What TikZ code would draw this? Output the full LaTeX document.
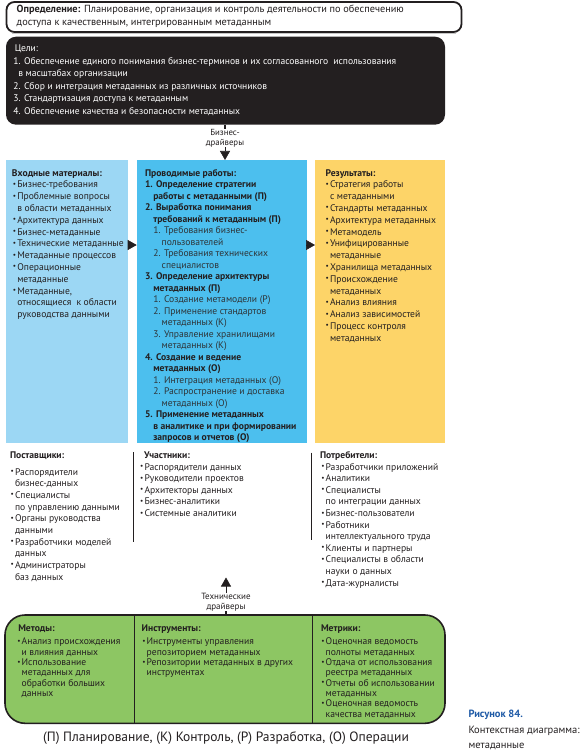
\documentclass[tikz,border=0pt]{standalone}
\usepackage{fontspec}
\usepackage{graphicx}
\setmainfont{PT Sans}
\usetikzlibrary{arrows.meta}
\definecolor{txt}{HTML}{231F20}
\definecolor{subc}{HTML}{2E3438}
\definecolor{lblue}{HTML}{9CD7F4}
\definecolor{mblue}{HTML}{4CBFEE}
\definecolor{yel}{HTML}{FDD468}
\definecolor{grn}{HTML}{8DC663}
\definecolor{capblue}{HTML}{1F5AA6}
\newcommand\bodyf{\fontsize{9.6pt}{11.8pt}\selectfont}
\newcommand\bul{\makebox[4.4pt][l]{\raisebox{0.3ex}{\scalebox{0.75}{•}}}}
\newcommand\blk[1]{\vtop{\hsize=450pt\parindent=0pt\parskip=0pt\rightskip=0pt plus 1fil\relax #1}}
\newcommand\bi[1]{\par\hangindent=4.4pt\hangafter=1\noindent\bul #1}
\newcommand\ttl[2]{\noindent\hspace*{#1}\textbf{#2}}
\newcommand\mi[3]{\par{\leftskip=#1\hangindent=#2\hangafter=1\noindent #3\par}}
\newcommand\ctr[1]{\vtop{\halign{\hfil##\hfil\cr #1\crcr}}}
\begin{document}
\begin{tikzpicture}[x=1pt,y=-1pt,
  tnode/.style={inner sep=0pt,outer sep=0pt,anchor=base west,text=txt},
  panel/.style={inner sep=0pt,outer sep=0pt,anchor=north west},
  tip/.style={-{Triangle[length=9pt,width=10pt]},line width=0.6pt,draw=txt},
  stem/.style={line width=1.2pt,draw=txt},
  sep/.style={line width=1.1pt,draw=txt}]
\useasboundingbox (0,0) rectangle (584,754);

% definition
\draw[black!22, line width=1.2pt] (12,33.4) -- (456,33.4);
\node[panel, draw=txt, fill=white, line width=1.8pt, rounded corners=8pt,
      minimum width=455pt, minimum height=30pt] (def) at (6.5,2) {};
\node[tnode, font=\fontsize{10.3}{12.4}\selectfont] (deft) at (16.7,13)
  {\blk{\noindent\textbf{Определение:} Планирование, организация и контроль деятельности по обеспечению\newline доступа к качественным, интегрированным метаданным}};

% goals
\node[panel, fill=txt, rounded corners=10pt, minimum width=439pt, minimum height=88pt] (goals) at (6,36.7) {};
\node[tnode, text=white, font=\fontsize{9.6}{12.6}\selectfont] (goalst) at (13.3,51.5)
  {\blk{\noindent\hspace*{1.5pt}Цели:
   \mi{0pt}{5pt}{1. Обеспечение единого понимания бизнес-терминов и их согласованного\ \ использования\newline в масштабах организации}
   \mi{0pt}{5pt}{2. Сбор и интеграция метаданных из различных источников}
   \mi{0pt}{5pt}{3. Стандартизация доступа к метаданным}
   \mi{0pt}{5pt}{4. Обеспечение качества и безопасности метаданных}}};

% columns
\node[panel, fill=lblue, minimum width=122.3pt, minimum height=283pt] (inp) at (6,160) {};
\node[panel, fill=mblue, minimum width=170pt, minimum height=283pt] (act) at (136.7,160) {};
\node[panel, fill=yel, minimum width=130pt, minimum height=283pt] (res) at (315,160) {};

\node[tnode, font=\bodyf] (inpt) at (12.9,176)
  {\blk{\ttl{-0.9pt}{Входные материалы:}
   \bi{Бизнес-требования}
   \bi{Проблемные вопросы\newline в области метаданных}
   \bi{Архитектура данных}
   \bi{Бизнес-метаданные}
   \bi{Технические метаданные}
   \bi{Метаданные процессов}
   \bi{Операционные\newline метаданные}
   \bi{Метаданные,\newline относящиеся\ \ к области\newline руководства данными}}};

\node[tnode, font=\fontsize{9.6pt}{11.5pt}\selectfont] (actt) at (145,176)
  {\blk{\ttl{0pt}{Проводимые работы:}
   \mi{0pt}{8.3pt}{\textbf{1. Определение стратегии\newline работы с метаданными (П)}}
   \mi{0pt}{8.3pt}{\textbf{2. Выработка понимания\newline требований к метаданным (П)}}
   \mi{8.3pt}{8.4pt}{\color{subc}1. Требования бизнес-\newline пользователей}
   \mi{8.3pt}{8.4pt}{\color{subc}2. Требования технических\newline специалистов}
   \mi{0pt}{8.3pt}{\textbf{3. Определение архитектуры\newline метаданных (П)}}
   \mi{8.3pt}{8.4pt}{\color{subc}1. Создание метамодели (Р)}
   \mi{8.3pt}{8.4pt}{\color{subc}2. Применение стандартов\newline метаданных (К)}
   \mi{8.3pt}{8.4pt}{\color{subc}3. Управление хранилищами\newline метаданных (К)}
   \mi{0pt}{8.3pt}{\textbf{4. Создание и ведение\newline метаданных (О)}}
   \mi{8.3pt}{8.4pt}{\color{subc}1. Интеграция метаданных (О)}
   \mi{8.3pt}{8.4pt}{\color{subc}2. Распространение и доставка\newline метаданных (О)}
   \mi{0pt}{8.3pt}{\textbf{5. Применение метаданных\newline в аналитике и при формировании\newline запросов и отчетов (О)}}}};

\node[tnode, font=\bodyf] (rest) at (325.6,176)
  {\blk{\ttl{0pt}{Результаты:}
   \bi{Стратегия работы\newline с метаданными}
   \bi{Стандарты метаданных}
   \bi{Архитектура метаданных}
   \bi{Метамодель}
   \bi{Унифицированные\newline метаданные}
   \bi{Хранилища метаданных}
   \bi{Происхождение\newline метаданных}
   \bi{Анализ влияния}
   \bi{Анализ зависимостей}
   \bi{Процесс контроля\newline метаданных}}};

\coordinate (arow) at (0,245);
\draw[tip] (inp.east |- arow) -- (act.west |- arow);
\draw[tip] (act.east |- arow) -- (res.west |- arow);

% business drivers
\node[inner sep=0pt, outer sep=0pt, anchor=base, text=txt, font=\fontsize{8.8}{10}\selectfont] (bd) at (225,135.5)
  {\ctr{Бизнес-\cr драйверы}};
\draw[stem] (goals.south -| bd) -- (bd.north);
\draw[tip] (bd.south) -- (bd.south |- act.north);

% lower lists
\node[tnode, font=\fontsize{9.6pt}{11.67pt}\selectfont] (supt) at (10.6,458.5)
  {\blk{\ttl{-0.6pt}{Поставщики:}\par\vspace{4.9pt}
   \bi{Распорядители\newline бизнес-данных}
   \bi{Специалисты\newline по управлению данными}
   \bi{Органы руководства\newline данными}
   \bi{Разработчики моделей\newline данных}
   \bi{Администраторы\newline баз данных}}};
\node[tnode, font=\fontsize{9.6pt}{11.6pt}\selectfont] (part) at (140.1,458.5)
  {\blk{\ttl{3.9pt}{Участники:}
   \bi{Распорядители данных}
   \bi{Руководители проектов}
   \bi{Архитекторы данных}
   \bi{Бизнес-аналитики}
   \bi{Системные аналитики}}};
\node[tnode, font=\fontsize{9.6pt}{11.6pt}\selectfont] (cont) at (321.3,458.5)
  {\blk{\ttl{-1.3pt}{Потребители:}
   \bi{Разработчики приложений}
   \bi{Аналитики}
   \bi{Специалисты\newline по интеграции данных}
   \bi{Бизнес-пользователи}
   \bi{Работники\newline интеллектуального труда}
   \bi{Клиенты и партнеры}
   \bi{Специалисты в области\newline науки о данных}
   \bi{Дата-журналисты}}};
\draw[sep] (133.3,452) -- (133.3,541.7);
\draw[sep] (311.7,452.7) -- (311.7,540);

% green box
\node[panel, fill=grn, draw=txt, line width=1.6pt, rounded corners=20pt,
      minimum width=440pt, minimum height=108.3pt] (grn) at (5,615) {};
\draw[line width=1pt, draw=txt] ([xshift=129.3pt]grn.north west) -- ([xshift=129.3pt]grn.south west);
\draw[line width=1pt, draw=txt] ([xshift=307.3pt]grn.north west) -- ([xshift=307.3pt]grn.south west);

\node[tnode, font=\fontsize{9.6pt}{10.3pt}\selectfont] (mett) at (17.3,631.5)
  {\blk{\ttl{1pt}{Методы:}\par\vspace{3.1pt}
   \bi{Анализ происхождения\newline и влияния данных}
   \bi{Использование\newline метаданных для\newline обработки больших\newline данных}}};
\node[tnode, font=\fontsize{9.6pt}{10.3pt}\selectfont] (inst) at (142.3,631.5)
  {\blk{\ttl{-0.6pt}{Инструменты:}\par\vspace{3.1pt}
   \bi{Инструменты управления\newline репозиторием метаданных}
   \bi{Репозитории метаданных в других\newline инструментах}}};
\node[tnode, font=\fontsize{9.6pt}{10.3pt}\selectfont] (mtrt) at (321.3,631.5)
  {\blk{\ttl{-0.3pt}{Метрики:}\par\vspace{3.1pt}
   \bi{Оценочная ведомость\newline полноты метаданных}
   \bi{Отдача от использования\newline реестра метаданных}
   \bi{Отчеты об использовании\newline метаданных}
   \bi{Оценочная ведомость\newline качества метаданных}}};

% technical drivers
\node[inner sep=0pt, outer sep=0pt, anchor=base, text=txt, font=\fontsize{9}{9.5}\selectfont] (td) at (226,599.5)
  {\ctr{Технические\cr драйверы}};
\coordinate (tdtop) at (226,577.5);
\draw[stem] (grn.north -| td) -- (td.south);
\draw[tip] (td.north) -- (td.north |- tdtop);

% captions
\node[inner sep=0pt, outer sep=0pt, anchor=base, text=txt, font=\fontsize{13.5}{15}\selectfont] (legend) at (226,741)
  {(П) Планирование, (К) Контроль, (Р) Разработка, (О) Операции};
\node[tnode, font=\fontsize{10.5}{15.5}\selectfont] (figcap) at (468.5,717.5)
  {\blk{\noindent\textcolor{capblue}{\textbf{Рисунок 84.}}\par Контекстная диаграмма:\par метаданные}};
\end{tikzpicture}
\end{document}
